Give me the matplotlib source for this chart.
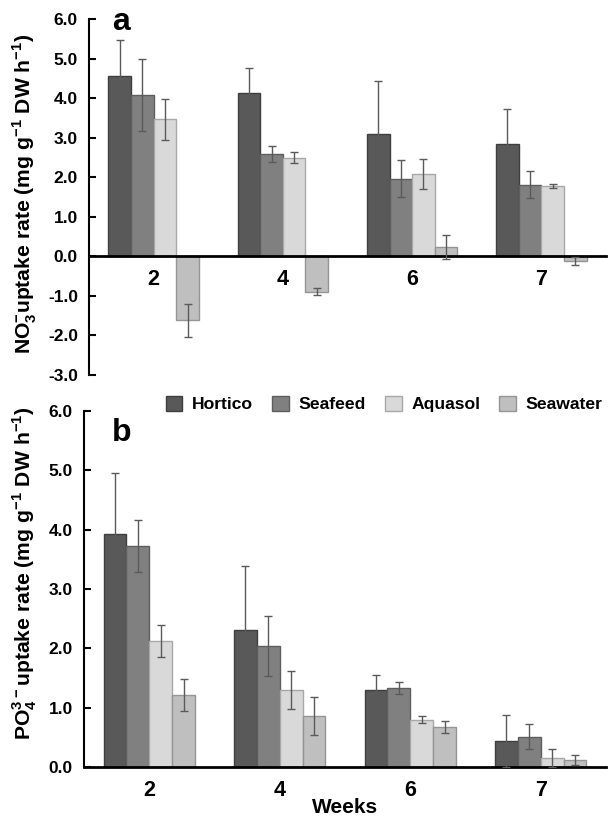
import numpy as np
import matplotlib
matplotlib.use('Agg')
import matplotlib.pyplot as plt
from matplotlib.ticker import FormatStrFormatter

plt.rcParams['font.family'] = 'Liberation Sans'
plt.rcParams['font.weight'] = 'bold'
plt.rcParams['mathtext.fontset'] = 'custom'
plt.rcParams['mathtext.rm'] = 'Liberation Sans:bold'
plt.rcParams['mathtext.bf'] = 'Liberation Sans:bold'
plt.rcParams['axes.unicode_minus'] = False

# data
weeks = ['2', '4', '6', '7']
treatments = ['Hortico', 'Seafeed', 'Aquasol', 'Seawater']

no3_hortico = [4.57, 4.14, 3.09, 2.84]
no3_seafeed = [4.08, 2.59, 1.96, 1.81]
no3_aquasol = [3.46, 2.49, 2.08, 1.79]
no3_seawater = [-1.62, -0.90, 0.24, -0.12]
no3_err_hortico = [0.89, 0.63, 1.33, 0.88]
no3_err_seafeed = [0.92, 0.21, 0.47, 0.34]
no3_err_aquasol = [0.52, 0.14, 0.38, 0.05]
no3_err_seawater = [0.42, 0.09, 0.30, 0.10]

po4_hortico = [3.93, 2.31, 1.29, 0.44]
po4_seafeed = [3.73, 2.04, 1.33, 0.51]
po4_aquasol = [2.13, 1.30, 0.80, 0.15]
po4_seawater = [1.22, 0.86, 0.68, 0.12]
po4_err_hortico = [1.03, 1.07, 0.26, 0.44]
po4_err_seafeed = [0.44, 0.51, 0.10, 0.21]
po4_err_aquasol = [0.27, 0.32, 0.06, 0.15]
po4_err_seawater = [0.27, 0.32, 0.10, 0.09]

colors = ['#595959', '#808080', '#d9d9d9', '#bfbfbf']
edges = ['#3f3f3f', '#5e5e5e', '#a8a8a8', '#959595']

W, H = 608, 818
fig = plt.figure(figsize=(W / 100, H / 100), dpi=100)
ax1 = fig.add_axes([89 / W, 1 - 375 / H, (606 - 89) / W, (375 - 19) / H])
ax2 = fig.add_axes([84 / W, 1 - 767 / H, (606 - 84) / W, (767 - 411) / H])

x = np.arange(len(weeks))
bw = 0.175


def draw(ax, series, errs, ylim, zero_axis=False):
    if zero_axis:
        ax.spines['bottom'].set_position(('data', 0))
    for i, (vals, err) in enumerate(zip(series, errs)):
        pos = x + (i - 1.5) * bw
        ax.bar(pos, vals, bw, color=colors[i], edgecolor=edges[i], linewidth=1,
               label=treatments[i], zorder=2)
        ax.errorbar(pos, vals, yerr=err, fmt='none', ecolor='#5a5a5a',
                    elinewidth=1, capsize=3.2, capthick=1, zorder=3)
    ax.set_xlim(-0.5, 3.5)
    ax.set_ylim(*ylim)
    ax.set_yticks(np.arange(ylim[0], ylim[1] + 1, 1))
    ax.set_xticks(x)
    ax.set_xticklabels(weeks, fontsize=15.5, fontweight='bold')
    ax.tick_params(axis='x', length=0, pad=9)
    ax.tick_params(axis='y', direction='in', length=5, width=1.5, labelsize=12.5, pad=8)
    ax.yaxis.set_major_formatter(FormatStrFormatter('%.1f'))
    for s in ['top', 'right']:
        ax.spines[s].set_visible(False)
    ax.spines['left'].set_linewidth(1.5)
    ax.spines['bottom'].set_linewidth(2)


draw(ax1, [no3_hortico, no3_seafeed, no3_aquasol, no3_seawater],
     [no3_err_hortico, no3_err_seafeed, no3_err_aquasol, no3_err_seawater],
     (-3, 6), zero_axis=True)
ax1.set_ylabel(r'NO$_\mathbf{3}^\mathbf{-}$uptake rate (mg g$^\mathbf{-1}$ DW h$^\mathbf{-1}$)',
               fontsize=15.2, fontweight='bold')
ax1.yaxis.set_label_coords(-0.097, 0.51)
ax1.text(112 / W, 1 - 30 / H, 'a', transform=fig.transFigure, fontsize=23, fontweight='bold')

draw(ax2, [po4_hortico, po4_seafeed, po4_aquasol, po4_seawater],
     [po4_err_hortico, po4_err_seafeed, po4_err_aquasol, po4_err_seawater],
     (0, 6))
ax2.set_ylabel(r'PO$_\mathbf{4}^\mathbf{3-}$uptake rate (mg g$^\mathbf{-1}$ DW h$^\mathbf{-1}$)',
               fontsize=15.2, fontweight='bold')
ax2.yaxis.set_label_coords(-0.086, 0.545)
ax2.set_xlabel('Weeks', fontsize=15, fontweight='bold', labelpad=-2)
ax2.text(112 / W, 1 - 441 / H, 'b', transform=fig.transFigure, fontsize=23, fontweight='bold')

handles, labels = ax2.get_legend_handles_labels()
fig.legend(handles, labels, loc='center', bbox_to_anchor=(384 / W, 1 - 404 / H), ncol=4,
           frameon=False, fontsize=12.6, handlelength=0.95, handleheight=0.95,
           handletextpad=0.55, columnspacing=1.1, borderaxespad=0)

fig.savefig('out.png', dpi=100)
